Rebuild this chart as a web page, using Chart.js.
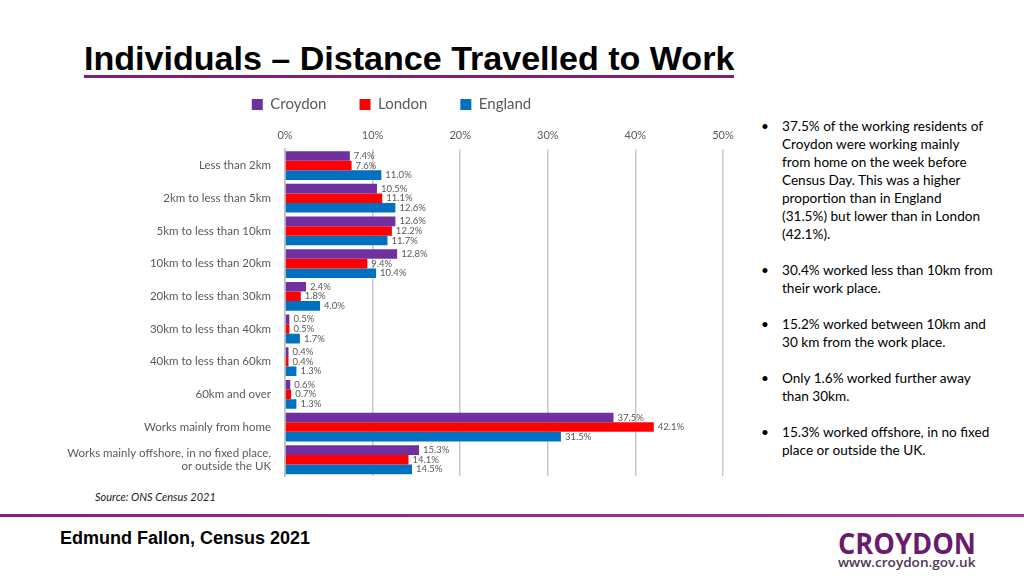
<!DOCTYPE html>
<html>
<head>
<meta charset="utf-8">
<script src="https://cdn.jsdelivr.net/npm/chart.js@4"></script>
<style>
  body { margin: 0; width: 1024px; height: 576px; position: relative; background: #fff; overflow: hidden; font-family: Lato, "Open Sans", sans-serif; }
  #title { position: absolute; left: 84px; top: 39px; font: bold 34px "Liberation Sans", Arial, sans-serif; color: #000; white-space: nowrap; transform-origin: 0 0; }
  #titleLine { position: absolute; left: 84px; top: 75px; width: 650px; height: 3px; background: #7a1f7d; }
  #chartBox { position: absolute; left: 40px; top: 87px; width: 710px; height: 402px; }
  #notes { position: absolute; left: 782px; top: 117px; width: 240px; font-size: 13.6px; line-height: 18px; color: #000; }
  #notes p { margin: 0 0 18px 0; position: relative; }
  #notes p::before { content: "\2022"; position: absolute; left: -21px; }
  #source { position: absolute; left: 95px; top: 490px; font-size: 11px; font-style: italic; color: #222; }
  #rule { position: absolute; left: 0; top: 514px; width: 1024px; height: 3px; background: linear-gradient(to right, #8a1c8a, #a03a9e); }
  #footer { position: absolute; left: 60px; top: 528px; font: bold 18px "Liberation Sans", Arial, sans-serif; color: #000; white-space: nowrap; }
  #logo { position: absolute; left: 838px; top: 523px; font: bold 29px "Open Sans", sans-serif; color: #6a1b6b; white-space: nowrap; transform-origin: 0 0; }
  #url { position: absolute; left: 838px; top: 553px; font: 600 13px "Open Sans", sans-serif; color: #4e3550; white-space: nowrap; transform-origin: 0 0; }
</style>
</head>
<body>
<div id="title">Individuals – Distance Travelled to Work</div>
<div id="titleLine"></div>
<div id="chartBox"><canvas id="chart"></canvas></div>
<div id="notes">
  <p>37.5% of the working residents of<br>Croydon were working mainly<br>from home on the week before<br>Census Day. This was a higher<br>proportion than in England<br>(31.5%) but lower than in London<br>(42.1%).</p>
  <p>30.4% worked less than 10km from<br>their work place.</p>
  <p>15.2% worked between 10km and<br>30 km from the work place.</p>
  <p>Only 1.6% worked further away<br>than 30km.</p>
  <p>15.3% worked offshore, in no fixed<br>place or outside the UK.</p>
</div>
<div id="source">Source: ONS Census 2021</div>
<div id="rule"></div>
<div id="footer">Edmund Fallon, Census 2021</div>
<div id="logo">CROYDON</div>
<div id="url">www.croydon.gov.uk</div>
<script>
var categories = [
  'Less than 2km',
  '2km to less than 5km',
  '5km to less than 10km',
  '10km to less than 20km',
  '20km to less than 30km',
  '30km to less than 40km',
  '40km to less than 60km',
  '60km and over',
  'Works mainly from home',
  ['Works mainly offshore, in no fixed place,', 'or outside the UK']
];
var croydon = [7.4, 10.5, 12.6, 12.8, 2.4, 0.5, 0.4, 0.6, 37.5, 15.3];
var london = [7.6, 11.1, 12.2, 9.4, 1.8, 0.5, 0.4, 0.7, 42.1, 14.1];
var england = [11.0, 12.6, 11.7, 10.4, 4.0, 1.7, 1.3, 1.3, 31.5, 14.5];
var xTicks = [0, 10, 20, 30, 40, 50];

function fitWidth(id, w) {
  var el = document.getElementById(id);
  el.style.transform = 'scaleX(' + (w / el.offsetWidth) + ')';
}
fitWidth('title', 650);
fitWidth('logo', 138);
fitWidth('url', 138);

var barLabels = {
  id: 'barLabels',
  afterDatasetsDraw: function (chart) {
    var ctx = chart.ctx;
    ctx.save();
    ctx.font = '9.5px Lato';
    ctx.fillStyle = '#595959';
    ctx.textBaseline = 'middle';
    chart.data.datasets.forEach(function (ds, i) {
      chart.getDatasetMeta(i).data.forEach(function (bar, j) {
        ctx.fillText(ds.data[j].toFixed(1) + '%', bar.x + 4, bar.y);
      });
    });
    ctx.restore();
  }
};

var ctx = document.getElementById('chart').getContext('2d');
var myChart = new Chart(ctx, {
  type: 'bar',
  data: {
    labels: categories,
    datasets: [
      { label: 'Croydon', data: croydon, backgroundColor: '#7030a0' },
      { label: 'London', data: london, backgroundColor: '#ff0000' },
      { label: 'England', data: england, backgroundColor: '#0070c0' }
    ]
  },
  plugins: [barLabels],
  options: {
    indexAxis: 'y',
    responsive: true,
    maintainAspectRatio: false,
    animation: false,
    categoryPercentage: 0.88,
    barPercentage: 1,
    layout: { padding: { left: 20, right: 27, bottom: 4 } },
    plugins: {
      tooltip: { enabled: false },
      legend: {
        position: 'top',
        labels: {
          font: { family: 'Lato', size: 15 },
          color: '#595959',
          boxWidth: 11,
          boxHeight: 11,
          padding: 10,
          generateLabels: function (chart) {
            var items = Chart.defaults.plugins.legend.labels.generateLabels(chart);
            items.forEach(function (it, k) {
              if (k < items.length - 1) it.text = it.text + '      ';
            });
            return items;
          }
        }
      }
    },
    scales: {
      x: {
        position: 'top',
        min: 0,
        max: 50,
        afterBuildTicks: function (scale) {
          scale.ticks = xTicks.map(function (v) { return { value: v }; });
        },
        ticks: {
          callback: function (v) { return v + '%'; },
          color: '#595959',
          font: { family: 'Lato', size: 11 },
          padding: 7
        },
        grid: { color: '#c9c9c9', lineWidth: 1.5, drawTicks: false },
        border: { display: false }
      },
      y: {
        afterFit: function (scale) { scale.width = 225; },
        ticks: {
          color: '#595959',
          font: { family: 'Lato', size: 11.5 },
          padding: 6
        },
        grid: { display: false },
        border: { color: '#bfbfbf', width: 1.5 }
      }
    }
  }
});
</script>
</body>
</html>
